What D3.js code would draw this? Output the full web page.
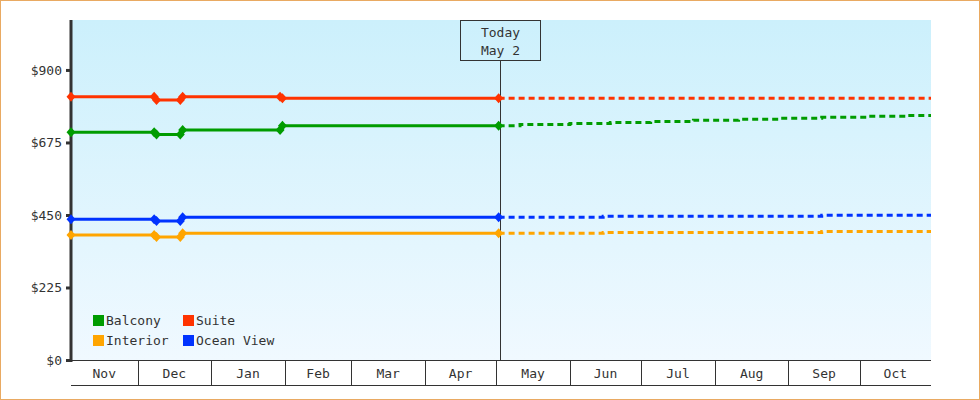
<!DOCTYPE html>
<html>
<head>
<meta charset="utf-8">
<script src="https://cdn.jsdelivr.net/npm/d3@7"></script>
<style>
  html, body { margin: 0; padding: 0; background: #fff; }
  svg text { font-family: "DejaVu Sans Mono", monospace; font-size: 13px; fill: #333; }
</style>
</head>
<body>
<div id="chart"></div>
<script>
// ---- data ----
const seriesNames = ["Balcony", "Suite", "Interior", "Ocean View"];
const seriesColors = ["#009c00", "#ff3300", "#ffa500", "#0033ff"];

const histDates = ["2022-11-03", "2022-12-08", "2022-12-09", "2022-12-19", "2022-12-20", "2023-01-30", "2023-01-31", "2023-05-02"];
const histBalcony = [707, 707, 700, 700, 714, 714, 727, 727];
const histSuite = [817, 817, 807, 807, 817, 817, 812, 812];
const histInterior = [388, 388, 382, 382, 393, 393, 393, 393];
const histOcean = [437, 437, 431, 431, 443, 443, 443, 443];
// only the points where the price changed carry a marker
const markerBalcony = [1, 1, 1, 1, 1, 1, 1, 1];
const markerSuite = [1, 1, 1, 1, 1, 1, 1, 1];
const markerInterior = [1, 1, 1, 1, 1, 0, 0, 1];
const markerOcean = [1, 1, 1, 1, 1, 0, 0, 1];

const fcBalconyDates = ["2023-05-02", "2023-05-11", "2023-06-01", "2023-06-18", "2023-07-05", "2023-07-23", "2023-08-11", "2023-08-28", "2023-09-15", "2023-10-05", "2023-10-21", "2023-10-31"];
const fcBalcony = [727, 731, 734, 737, 740, 744, 747, 750, 753, 756, 759, 759];
const fcSuiteDates = ["2023-05-02", "2023-10-31"];
const fcSuite = [812, 812];
const fcLowDates = ["2023-05-02", "2023-06-15", "2023-09-15", "2023-10-31"];
const fcInterior = [393, 396, 399, 399];
const fcOcean = [443, 446, 449, 449];

const monthLabels = ["Nov", "Dec", "Jan", "Feb", "Mar", "Apr", "May", "Jun", "Jul", "Aug", "Sep", "Oct"];
const yTicks = [0, 225, 450, 675, 900];
const todayDate = "2023-05-02";
const todayLabel = ["Today", "May 2"];

// ---- layout ----
const W = 980, H = 400;
const pLeft = 71, pRight = 931, pTop = 20, pBottom = 360, axisH = 25;

const parse = d3.timeParse("%Y-%m-%d");
const x = d3.scaleTime().domain([parse("2022-11-03"), parse("2023-10-31")]).range([pLeft, pRight]);
const y = d3.scaleLinear().domain([0, 1055]).range([pBottom, pTop]);

const svg = d3.select("#chart").append("svg").attr("width", W).attr("height", H);

// frame
svg.append("rect").attr("x", 0.5).attr("y", 0.5).attr("width", W - 1).attr("height", H - 1)
  .attr("fill", "#fff").attr("stroke", "#e9aa62");

// background gradient
const grad = svg.append("defs").append("linearGradient").attr("id", "bg")
  .attr("x1", 0).attr("y1", 0).attr("x2", 0).attr("y2", 1);
grad.append("stop").attr("offset", "0%").attr("stop-color", "#ccf0fc");
grad.append("stop").attr("offset", "100%").attr("stop-color", "#f0f9ff");
svg.append("rect").attr("x", pLeft).attr("y", pTop).attr("width", pRight - pLeft).attr("height", pBottom - pTop)
  .attr("fill", "url(#bg)");

// x axis as month cells, clipped to the plotted range
const [d0, d1] = x.domain();
const cellStart = d => (d < d0 ? d0 : d);
const cellEnd = d => { const e = d3.timeMonth.offset(d, 1); return e > d1 ? d1 : e; };
const months = d3.timeMonth.range(d3.timeMonth.floor(d0), d1);
const xa = svg.append("g").attr("stroke", "#333").attr("stroke-width", 1);
xa.append("line").attr("x1", pLeft).attr("x2", pRight).attr("y1", pBottom + 0.5).attr("y2", pBottom + 0.5);
xa.append("line").attr("x1", pLeft).attr("x2", pRight).attr("y1", pBottom + axisH + 0.5).attr("y2", pBottom + axisH + 0.5);
xa.selectAll("line.sep").data(months.slice(1)).join("line").attr("class", "sep")
  .attr("x1", d => Math.round(x(d)) + 0.5).attr("x2", d => Math.round(x(d)) + 0.5)
  .attr("y1", pBottom).attr("y2", pBottom + axisH);
svg.append("g").selectAll("text").data(months).join("text")
  .attr("x", d => (x(cellStart(d)) + x(cellEnd(d))) / 2)
  .attr("y", pBottom + 17.5)
  .attr("text-anchor", "middle")
  .text((d, i) => monthLabels[i]);

// y axis
const ya = svg.append("g").attr("transform", `translate(${pLeft},0)`)
  .call(d3.axisLeft(y).tickValues(yTicks).tickSize(5).tickPadding(4).tickFormat(d => "$" + d));
ya.select(".domain").remove();
ya.attr("font-family", null).attr("font-size", null);
ya.selectAll(".tick line").attr("stroke", "#333").attr("stroke-width", 3);
ya.selectAll(".tick text").attr("fill", "#333");
svg.append("line").attr("x1", pLeft).attr("x2", pLeft).attr("y1", pTop).attr("y2", pBottom + 2)
  .attr("stroke", "#333").attr("stroke-width", 3);

// today marker (drawn at midday)
const tx = Math.round(x(d3.timeHour.offset(parse(todayDate), 12))) + 0.5;
svg.append("line").attr("x1", tx).attr("x2", tx).attr("y1", pTop + 40).attr("y2", pBottom)
  .attr("stroke", "#333").attr("stroke-width", 1);
svg.append("rect").attr("x", tx - 40).attr("y", pTop + 0.5).attr("width", 80).attr("height", 40)
  .attr("fill", "none").attr("stroke", "#333").attr("stroke-width", 1);
svg.append("g").selectAll("text").data(todayLabel).join("text")
  .attr("x", tx).attr("y", (d, i) => pTop + 17 + i * 18)
  .attr("text-anchor", "middle").text(d => d);

// lines
const line = d3.line().x(d => x(d.date)).y(d => y(d.value));
const stepLine = d3.line().x(d => x(d.date)).y(d => y(d.value)).curve(d3.curveStepAfter);

const zip = (dates, vals, marks) => dates.map((d, i) => ({ date: parse(d), value: vals[i], mark: marks ? marks[i] : 0 }));

const hist = [
  zip(histDates, histBalcony, markerBalcony),
  zip(histDates, histSuite, markerSuite),
  zip(histDates, histInterior, markerInterior),
  zip(histDates, histOcean, markerOcean)
];
const fc = [
  zip(fcBalconyDates, fcBalcony),
  zip(fcSuiteDates, fcSuite),
  zip(fcLowDates, fcInterior),
  zip(fcLowDates, fcOcean)
];

const diamond = "M0,-5L4.5,0L0,5L-4.5,0Z";

seriesNames.forEach((name, i) => {
  const c = seriesColors[i];
  svg.append("path").datum(fc[i]).attr("d", stepLine)
    .attr("fill", "none").attr("stroke", c).attr("stroke-width", 3)
    .attr("stroke-dasharray", "6,4");
  svg.append("path").datum(hist[i]).attr("d", line)
    .attr("fill", "none").attr("stroke", c).attr("stroke-width", 3);
  svg.append("g").selectAll("path").data(hist[i].filter(d => d.mark)).join("path")
    .attr("d", diamond)
    .attr("transform", d => `translate(${x(d.date)},${y(d.value)})`)
    .attr("fill", c);
});

// legend
const legendOrder = [[0, 1], [2, 3]];
const lg = svg.append("g");
legendOrder.forEach((row, r) => {
  row.forEach((si, cidx) => {
    const g = lg.append("g").attr("transform", `translate(${93 + cidx * 90},${315 + r * 20})`);
    g.append("rect").attr("width", 11).attr("height", 11).attr("fill", seriesColors[si]);
    g.append("text").attr("x", 13).attr("y", 10).text(seriesNames[si]);
  });
});
</script>
</body>
</html>
